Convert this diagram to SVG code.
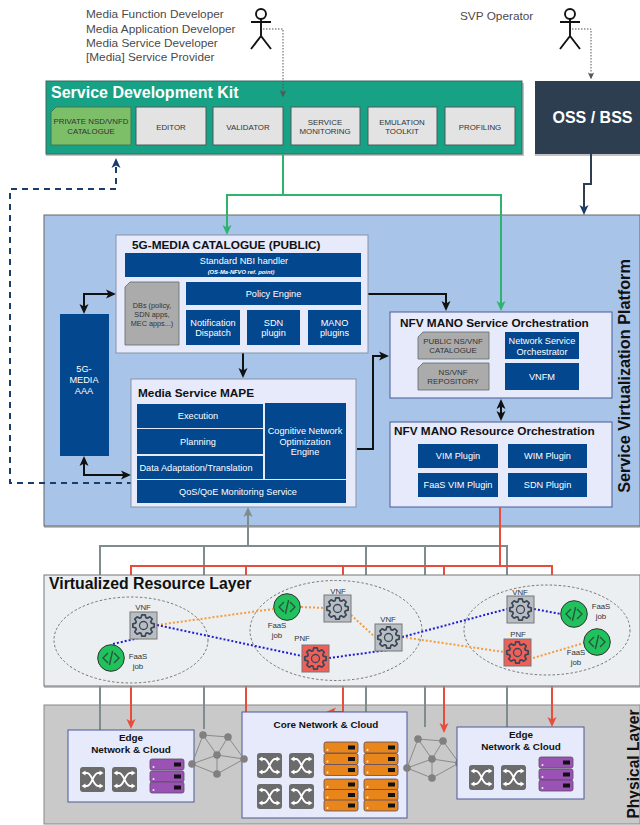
<svg xmlns="http://www.w3.org/2000/svg" xmlns:xlink="http://www.w3.org/1999/xlink" width="640" height="825" viewBox="0 0 640 825">
<style>
text{font-family:"Liberation Sans",Arial,sans-serif}
.t{text-anchor:middle}
.actor{font-size:11.8px;fill:#4a4a4a}
.a{fill:none;stroke:#111;stroke-width:1.9}
.h{font-weight:700;fill:#111}
.h12{font-size:11.8px}
.n{fill:#03478f}
.w{fill:#fff;font-size:9.2px;text-anchor:middle}
.d{fill:#333;font-size:7.9px;text-anchor:middle}
.g{fill:#e3e3e3;stroke:#4d5a5a;stroke-width:1}
.panel{fill:#e6eafb;stroke:#8494a8;stroke-width:1}
.panel2{fill:#e6eafb;stroke:#4a5a96;stroke-width:1}
.doc{fill:#ababab;stroke:#5d6b6b;stroke-width:.8}
.c{fill:none;stroke-width:2}
.k{stroke:#111}.gr{stroke:#7f8c8d}.rd{stroke:#e74c3c}.gn{stroke:#2eb46d}
.dot{fill:none;stroke-width:2;stroke-dasharray:2 2}
.or{stroke:#f39c3a}.bl{stroke:#1e1ed2}
.e{fill:none;stroke:#666;stroke-width:.9;stroke-dasharray:2.5 2}
.vf{fill:#b9bec4;stroke:#777}
.pf{fill:#ef6058;stroke:#777}
.s{font-size:7.8px;fill:#333;text-anchor:middle}
.mesh{fill:none;stroke:#8a8a8a;stroke-width:1}
.mn{fill:#808080}
.sh{fill:#9a9a9a;opacity:.6}
.cl{font-size:9.9px;font-weight:700;fill:#111;text-anchor:middle}
</style>
<defs>
<marker id="mk" markerUnits="userSpaceOnUse" viewBox="0 0 10 10" refX="7" refY="5" markerWidth="10" markerHeight="10" orient="auto-start-reverse"><path d="M0,.5L10,5L0,9.5L2.5,5z" fill="#111"/></marker>
<marker id="mr" markerUnits="userSpaceOnUse" viewBox="0 0 10 10" refX="7" refY="5" markerWidth="10" markerHeight="10" orient="auto-start-reverse"><path d="M0,.5L10,5L0,9.5L2.5,5z" fill="#e74c3c"/></marker>
<marker id="mg" markerUnits="userSpaceOnUse" viewBox="0 0 10 10" refX="7" refY="5" markerWidth="10" markerHeight="10" orient="auto-start-reverse"><path d="M0,.5L10,5L0,9.5L2.5,5z" fill="#2eb46d"/></marker>
<marker id="my" markerUnits="userSpaceOnUse" viewBox="0 0 10 10" refX="7" refY="5" markerWidth="10" markerHeight="10" orient="auto-start-reverse"><path d="M0,.5L10,5L0,9.5L2.5,5z" fill="#7f8c8d"/></marker>
<marker id="mn" markerUnits="userSpaceOnUse" viewBox="0 0 10 10" refX="7" refY="5" markerWidth="10" markerHeight="10" orient="auto-start-reverse"><path d="M0,.5L10,5L0,9.5L2.5,5z" fill="#1a3e6b"/></marker>
<marker id="md" markerUnits="userSpaceOnUse" viewBox="0 0 10 10" refX="8" refY="5" markerWidth="7" markerHeight="7" orient="auto-start-reverse"><path d="M0,.5L10,5L0,9.5L2.5,5z" fill="#555"/></marker>
<g id="actor" class="a"><circle cx="0" cy="14" r="5"/><path d="M0,19V36M-10,22H10M0,36L-10,49M0,36L10,49"/></g>
<g id="gear"><path fill="none" stroke="#3c4858" stroke-width="1.6" stroke-linejoin="round" transform="scale(1.08)" d="M7.27,-2.22L9.88,-1.56L9.88,1.56L7.27,2.22L6.71,3.57L8.09,5.88L5.88,8.09L3.57,6.71L2.22,7.27L1.56,9.88L-1.56,9.88L-2.22,7.27L-3.57,6.71L-5.88,8.09L-8.09,5.88L-6.71,3.57L-7.27,2.22L-9.88,1.56L-9.88,-1.56L-7.27,-2.22L-6.71,-3.57L-8.09,-5.88L-5.88,-8.09L-3.57,-6.71L-2.22,-7.27L-1.56,-9.88L1.56,-9.88L2.22,-7.27L3.57,-6.71L5.88,-8.09L8.09,-5.88L6.71,-3.57Z"/><circle r="4" fill="none" stroke="#3c4858" stroke-width="1.3"/></g>
<g id="code"><circle r="13.3" fill="#21c25e" stroke="#333" stroke-width="1"/><path d="M-3,-5L-8,0L-3,5M3,-5L8,0L3,5M1.6,-7L-1.6,7" fill="none" stroke="#27573a" stroke-width="1.4"/></g>
<g id="sw"><rect width="25" height="25" rx="3" fill="#6b6b6b"/><path d="M4,6H7C12,6 13,19 18,19H21M4,19H7C12,19 13,6 18,6H21" fill="none" stroke="#fff" stroke-width="1.8"/><path d="M1.500,6L5.500,3.500V8.500zM1.500,19L5.500,16.500V21.500zM23.500,6L19.500,3.500V8.500zM23.500,19L19.500,16.500V21.500z" fill="#fff"/></g>
<g id="srv"><rect width="34" height="11" rx="2" stroke="#5a4d66" stroke-width=".8"/><rect x="24" y="3.5" width="7" height="4" fill="#111"/><circle cx="3.5" cy="8" r="1" fill="#eee"/></g>
<g id="m"><path class="mesh" d="M192,764L203,735L228,737L244,759L217,774L192,764L217,755L203,735M228,737L217,755L244,759M217,755V774"/><g class="mn"><circle cx="192" cy="764" r="3.8"/><circle cx="203" cy="735" r="3.8"/><circle cx="228" cy="737" r="3.8"/><circle cx="217" cy="755" r="3.8"/><circle cx="217" cy="774" r="3.8"/><circle cx="244" cy="759" r="3.8"/></g></g>
</defs>
<rect width="640" height="825" fill="#fff"/>

<g id="actor-dev"><use xlink:href="#actor" href="#actor" x="261"/>
<text class="actor" x="86" y="18">Media Function Developer</text>
<text class="actor" x="86" y="33">Media Application Developer</text>
<text class="actor" x="86" y="47">Media Service Developer</text>
<text class="actor" x="86" y="61">[Media] Service Provider</text></g>
<g id="actor-op"><use xlink:href="#actor" href="#actor" x="570"/>
<text class="actor" x="460" y="20">SVP Operator</text></g>

<g id="sdk">
<rect class="sh" x="46" y="83" width="478" height="73"/>
<rect x="46" y="81" width="476" height="73" fill="#17a185" stroke="#3d6a62"/>
<text x="51" y="98" font-size="16" font-weight="700" fill="#fff">Service Development Kit</text>
<path d="M56,107H131V145H51V112z" fill="#7dbf68" stroke="#3e7a55"/>
<text class="d" x="91" y="124">PRIVATE NSD/VNFD</text><text class="d" x="91" y="134">CATALOGUE</text>
<rect class="g" x="136" y="107" width="70" height="38"/><text class="d" x="171" y="130">EDITOR</text>
<rect class="g" x="213" y="107" width="70" height="38"/><text class="d" x="248" y="130">VALIDATOR</text>
<rect class="g" x="291" y="107" width="69" height="38"/><text class="d" x="325" y="125">SERVICE</text><text class="d" x="325" y="134">MONITORING</text>
<rect class="g" x="368" y="107" width="69" height="38"/><text class="d" x="402" y="125">EMULATION</text><text class="d" x="402" y="134">TOOLKIT</text>
<rect class="g" x="445" y="107" width="70" height="38"/><text class="d" x="480" y="130">PROFILING</text>
</g>
<g id="oss"><rect class="sh" x="535" y="83" width="105" height="73"/><rect x="535" y="81" width="105" height="73" fill="#2c3e50"/><text x="592.5" y="123" class="t" font-size="16" font-weight="700" fill="#fff">OSS / BSS</text></g>

<g id="platform-bg"><rect class="sh" x="44" y="217" width="596" height="311"/><rect x="44" y="215" width="596" height="311" fill="#a9c4e9" stroke="#666"/>
<text class="h" transform="translate(630,376) rotate(-90)" text-anchor="middle" font-size="16.2">Service Virtualization Platform</text></g>

<g id="connectors-upper">
<path class="dot" style="stroke:#555;stroke-width:1;stroke-dasharray:1.5 1.5" d="M263,29H283V96" marker-end="url(#md)"/>
<path class="dot" style="stroke:#555;stroke-width:1;stroke-dasharray:1.5 1.5" d="M572,29H591V78" marker-end="url(#md)"/>
<path class="c gn" d="M283,154V195H227V232" marker-end="url(#mg)"/>
<path class="c gn" d="M283,195H501V308" marker-end="url(#mg)"/>
<path class="c" stroke="#2c3e50" d="M591,154V184H584V212" marker-end="url(#mn)"/>
<path fill="none" stroke="#1a3e6b" stroke-width="2" stroke-dasharray="6 5" d="M133,483H10V189H116V161" marker-end="url(#mn)"/>
<path class="c k" d="M368,294H446V308" marker-end="url(#mk)"/>
<path class="c k" d="M84,311V294H113" marker-start="url(#mk)" marker-end="url(#mk)"/>
<path class="c k" d="M243,353V375" marker-end="url(#mk)"/>
<path class="c k" d="M84,459V475H128" marker-start="url(#mk)" marker-end="url(#mk)"/>
<path class="c k" d="M357,449H373V356H386" marker-end="url(#mk)"/>
<path class="c k" d="M501,402V418" marker-start="url(#mk)" marker-end="url(#mk)"/>
</g>

<g id="catalogue"><rect class="panel" x="116" y="235" width="252" height="118"/>
<text class="h h12" x="132" y="249">5G-MEDIA CATALOGUE (PUBLIC)</text>
<rect class="n" x="125" y="253" width="236" height="24"/>
<text class="w" x="244" y="263.5">Standard NBI handler</text>
<text class="w" x="241" y="274" style="font-size:5.8px;font-style:italic;font-weight:700">(OS-Ma-NFVO ref. point)</text>
<path class="doc" d="M130,282H179V345H125V287z"/>
<text class="d" x="152" y="308" style="font-size:7.3px">DBs (policy,</text><text class="d" x="152" y="317" style="font-size:7.3px">SDN apps,</text><text class="d" x="152" y="326" style="font-size:7.3px">MEC apps...)</text>
<rect class="n" x="186" y="282" width="175" height="23"/><text class="w" x="273.5" y="297">Policy Engine</text>
<rect class="n" x="186" y="310" width="54" height="35"/><text class="w" x="213" y="326">Notification</text><text class="w" x="213" y="336">Dispatch</text>
<rect class="n" x="247" y="310" width="53" height="35"/><text class="w" x="273.5" y="326">SDN</text><text class="w" x="273.5" y="336">plugin</text>
<rect class="n" x="308" y="310" width="53" height="35"/><text class="w" x="334.5" y="326">MANO</text><text class="w" x="334.5" y="336">plugins</text>
</g>
<g id="aaa"><rect class="n" x="60" y="314" width="49" height="142"/>
<text class="w" x="84" y="372">5G-</text><text class="w" x="84" y="383">MEDIA</text><text class="w" x="84" y="394">AAA</text></g>
<g id="mape"><rect class="panel" x="131" y="379" width="225" height="128"/>
<text class="h h12" x="138" y="397">Media Service MAPE</text>
<rect class="n" x="137" y="404" width="126" height="24"/><text class="w" x="198" y="419">Execution</text>
<rect class="n" x="137" y="429" width="126" height="25"/><text class="w" x="198" y="445">Planning</text>
<rect class="n" x="137" y="456" width="126" height="23"/><text class="w" x="196" y="471">Data Adaptation/Translation</text>
<rect class="n" x="265" y="403" width="81" height="76"/><text class="w" x="305" y="434">Cognitive Network</text><text class="w" x="305" y="445">Optimization</text><text class="w" x="305" y="455">Engine</text>
<rect class="n" x="137" y="480" width="209" height="23"/><text class="w" x="238" y="495">QoS/QoE Monitoring Service</text>
</g>
<g id="nfv-service"><rect class="panel2" x="390" y="312" width="222" height="86"/>
<text class="h h12" x="400" y="327">NFV MANO Service Orchestration</text>
<path class="doc" d="M423,332H489V359H418V337z"/><text class="d" x="453" y="344">PUBLIC NS/VNF</text><text class="d" x="453" y="353">CATALOGUE</text>
<path class="doc" d="M423,363H489V390H418V368z"/><text class="d" x="453" y="375">NS/VNF</text><text class="d" x="453" y="384">REPOSITORY</text>
<rect class="n" x="505" y="332" width="74" height="27"/><text class="w" x="542" y="344">Network Service</text><text class="w" x="542" y="355">Orchestrator</text>
<rect class="n" x="505" y="363" width="74" height="27"/><text class="w" x="542" y="380">VNFM</text>
</g>
<g id="nfv-resource"><rect class="panel2" x="390" y="422" width="222" height="85"/>
<text class="h h12" x="394" y="435">NFV MANO Resource Orchestration</text>
<rect class="n" x="418" y="444" width="80" height="24"/><text class="w" x="458" y="459">VIM Plugin</text>
<rect class="n" x="508" y="444" width="79" height="24"/><text class="w" x="547.5" y="459">WIM Plugin</text>
<rect class="n" x="418" y="473" width="80" height="24"/><text class="w" x="458" y="488">FaaS VIM Plugin</text>
<rect class="n" x="508" y="473" width="79" height="24"/><text class="w" x="547.5" y="488">SDN Plugin</text>
</g>

<g id="connectors-layers">
<path class="c gr" d="M248,546V510" marker-end="url(#my)"/>
<path class="c gr" d="M100,575V546H507V575M204,546V575M366,546V575M425,546V575"/>
<path class="c rd" d="M500,507V566M131,575V566H552V575M246,566V575M343,566V575M444,566V575"/>
</g>

<g id="physical-bg"><rect x="44" y="705" width="596" height="119" fill="#c9c9c9" stroke="#888"/>
<text class="h" transform="translate(638.5,764) rotate(-90)" text-anchor="middle" font-size="15.6">Physical Layer</text></g>

<g id="connectors-lower">
<path class="c gr" d="M100,686V730M204,686V729M366,686V712M425,686V727M507,686V727"/>
<path class="c rd" d="M131,686V726" marker-end="url(#mr)"/>
<path class="c rd" d="M246,686V726" marker-end="url(#mr)"/>
<path class="c rd" d="M343,686V712H329" marker-end="url(#mr)"/>
<path class="c rd" d="M444,686V730" marker-end="url(#mr)"/>
<path class="c rd" d="M552,686V724" marker-end="url(#mr)"/>
</g>

<g id="vrl"><rect class="sh" x="44" y="577" width="596" height="111"/><rect x="44" y="575" width="596" height="111" fill="#eceff1" stroke="#777"/>
<text class="h" x="49" y="589" font-size="15.8">Virtualized Resource Layer</text>
<ellipse class="e" cx="131" cy="640" rx="77" ry="43"/>
<ellipse class="e" cx="336" cy="630.5" rx="86" ry="50"/>
<ellipse class="e" cx="547" cy="630" rx="83" ry="45"/>
</g>
<g id="vnf-links">
<path class="dot or" d="M157,625L273,609M301,607L324,608M351,615L375,637M402,637L504,652M533,658L584,643"/>
<path class="dot bl" d="M113,644L143,637M157,625L302,656M329,658L388,650M402,637L507,609M534,609L561,614"/>
</g>
<g id="vnf-a"><rect class="vf" x="130" y="612" width="27" height="27"/><use xlink:href="#gear" href="#gear" x="143.5" y="625.5"/><text class="s" x="143" y="610">VNF</text></g>
<g id="vnf-b"><rect class="vf" x="324" y="595" width="27" height="27"/><use xlink:href="#gear" href="#gear" x="337.5" y="608.5"/><text class="s" x="338" y="594">VNF</text></g>
<g id="vnf-c"><rect class="vf" x="375" y="624" width="27" height="27"/><use xlink:href="#gear" href="#gear" x="388.5" y="637.5"/><text class="s" x="388" y="622">VNF</text></g>
<g id="vnf-d"><rect class="vf" x="507" y="596" width="27" height="27"/><use xlink:href="#gear" href="#gear" x="520.5" y="609.5"/><text class="s" x="520" y="595">VNF</text></g>
<g id="pnf-a"><rect class="pf" x="302" y="645" width="27" height="27"/><use xlink:href="#gear" href="#gear" x="315.5" y="658.5"/><text class="s" x="302" y="641">PNF</text></g>
<g id="pnf-b"><rect class="pf" x="504" y="639" width="27" height="27"/><use xlink:href="#gear" href="#gear" x="517.5" y="652.5"/><text class="s" x="518" y="637">PNF</text></g>
<g id="faas-a"><use xlink:href="#code" href="#code" x="111" y="658"/><text class="s" x="138" y="659">FaaS</text><text class="s" x="138" y="669">job</text></g>
<g id="faas-b"><use xlink:href="#code" href="#code" x="287" y="607"/><text class="s" x="277" y="628">FaaS</text><text class="s" x="277" y="638">job</text></g>
<g id="faas-c"><use xlink:href="#code" href="#code" x="574" y="614"/><text class="s" x="601" y="609">FaaS</text><text class="s" x="601" y="619">job</text></g>
<g id="faas-d"><use xlink:href="#code" href="#code" x="597" y="642"/><text class="s" x="576" y="655">FaaS</text><text class="s" x="576" y="665">job</text></g>

<g id="edge-1"><rect class="panel2" x="68" y="730" width="126" height="72"/>
<text class="cl" x="131" y="740.5">Edge</text><text class="cl" x="131" y="752.5">Network &amp; Cloud</text>
<use xlink:href="#sw" href="#sw" x="80" y="767"/><use xlink:href="#sw" href="#sw" x="112" y="767"/>
<g fill="#9a52b5"><use xlink:href="#srv" href="#srv" x="150" y="759"/><use xlink:href="#srv" href="#srv" x="150" y="771"/><use xlink:href="#srv" href="#srv" x="150" y="782"/></g></g>
<g id="core"><rect class="panel2" x="242" y="712" width="165" height="106"/>
<text class="cl" x="326" y="727.5">Core Network &amp; Cloud</text>
<use xlink:href="#sw" href="#sw" x="257" y="753"/><use xlink:href="#sw" href="#sw" x="289" y="753"/><use xlink:href="#sw" href="#sw" x="257" y="784"/><use xlink:href="#sw" href="#sw" x="289" y="784"/>
<g fill="#e8861c"><use xlink:href="#srv" href="#srv" x="324" y="742"/><use xlink:href="#srv" href="#srv" x="324" y="753.500"/><use xlink:href="#srv" href="#srv" x="324" y="764.500"/><use xlink:href="#srv" href="#srv" x="324" y="779"/><use xlink:href="#srv" href="#srv" x="324" y="789.500"/><use xlink:href="#srv" href="#srv" x="324" y="800"/>
<use xlink:href="#srv" href="#srv" x="364" y="742"/><use xlink:href="#srv" href="#srv" x="364" y="753.500"/><use xlink:href="#srv" href="#srv" x="364" y="764.500"/><use xlink:href="#srv" href="#srv" x="364" y="779"/><use xlink:href="#srv" href="#srv" x="364" y="789.500"/><use xlink:href="#srv" href="#srv" x="364" y="800"/></g></g>
<g id="mesh-1"><use xlink:href="#m" href="#m"/></g>
<g id="mesh-2"><use xlink:href="#m" href="#m" x="215" y="4"/></g>
<g id="edge-2"><rect class="panel2" x="457" y="727" width="127" height="72"/>
<text class="cl" x="521" y="737.500">Edge</text><text class="cl" x="521" y="749.500">Network &amp; Cloud</text>
<use xlink:href="#sw" href="#sw" x="469" y="765"/><use xlink:href="#sw" href="#sw" x="501" y="765"/>
<g fill="#9a52b5"><use xlink:href="#srv" href="#srv" x="539" y="757"/><use xlink:href="#srv" href="#srv" x="539" y="769"/><use xlink:href="#srv" href="#srv" x="539" y="780"/></g></g>
</svg>
